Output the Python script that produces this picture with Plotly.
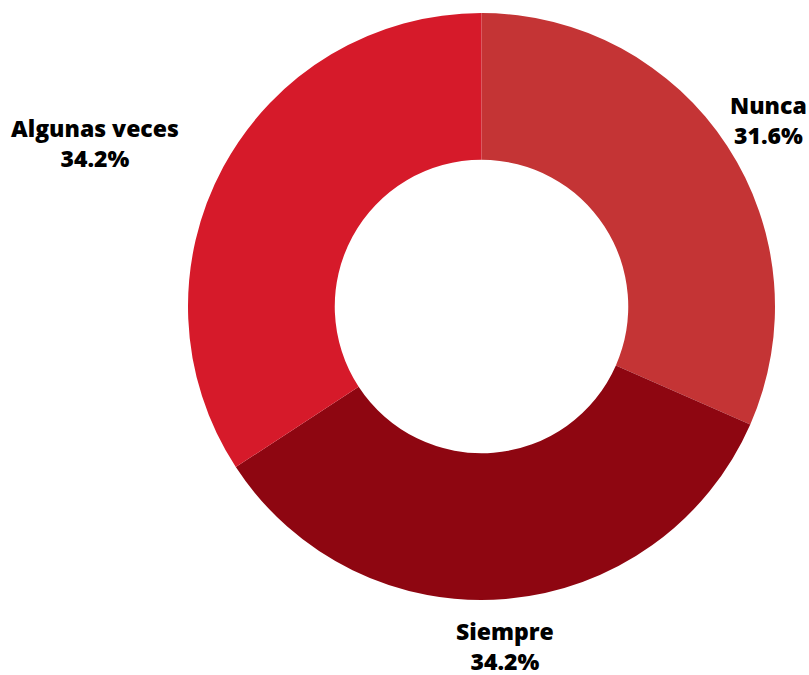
import plotly.graph_objects as go

labels = ["Nunca", "Siempre", "Algunas veces"]
values = [12, 13, 13]
colors = ["#C43435", "#8E0611", "#D61A2A"]

W, H = 809, 675
ML, MR, MT, MB = 188, 34, 13, 75

# label anchor positions in pixels (layout only)
label_pos = [(768, 120), (505, 646), (95, 143)]

fig = go.Figure(go.Pie(
    labels=labels,
    values=values,
    hole=0.5,
    sort=False,
    direction="clockwise",
    rotation=0,
    marker=dict(colors=colors, line=dict(width=0)),
    textinfo="none",
    showlegend=False,
))

total = sum(values)
for lab, val, (px, py) in zip(labels, values, label_pos):
    fig.add_annotation(
        x=(px - ML) / (W - ML - MR),
        y=1 - (py - MT) / (H - MT - MB),
        xref="paper", yref="paper",
        text=f"{lab}<br>{val / total * 100:.1f}%",
        showarrow=False,
        xanchor="center", yanchor="middle",
        align="center",
        borderpad=0,
        font=dict(family="Open Sans", size=23, color="#000000", weight=800),
    )

fig.update_layout(
    width=W, height=H,
    margin=dict(l=ML, r=MR, t=MT, b=MB),
    paper_bgcolor="white",
    plot_bgcolor="white",
)

fig.write_html(
    "out.html",
    config={"displayModeBar": False},
    post_script="document.body.style.margin='0';document.body.style.overflow='hidden';",
)
